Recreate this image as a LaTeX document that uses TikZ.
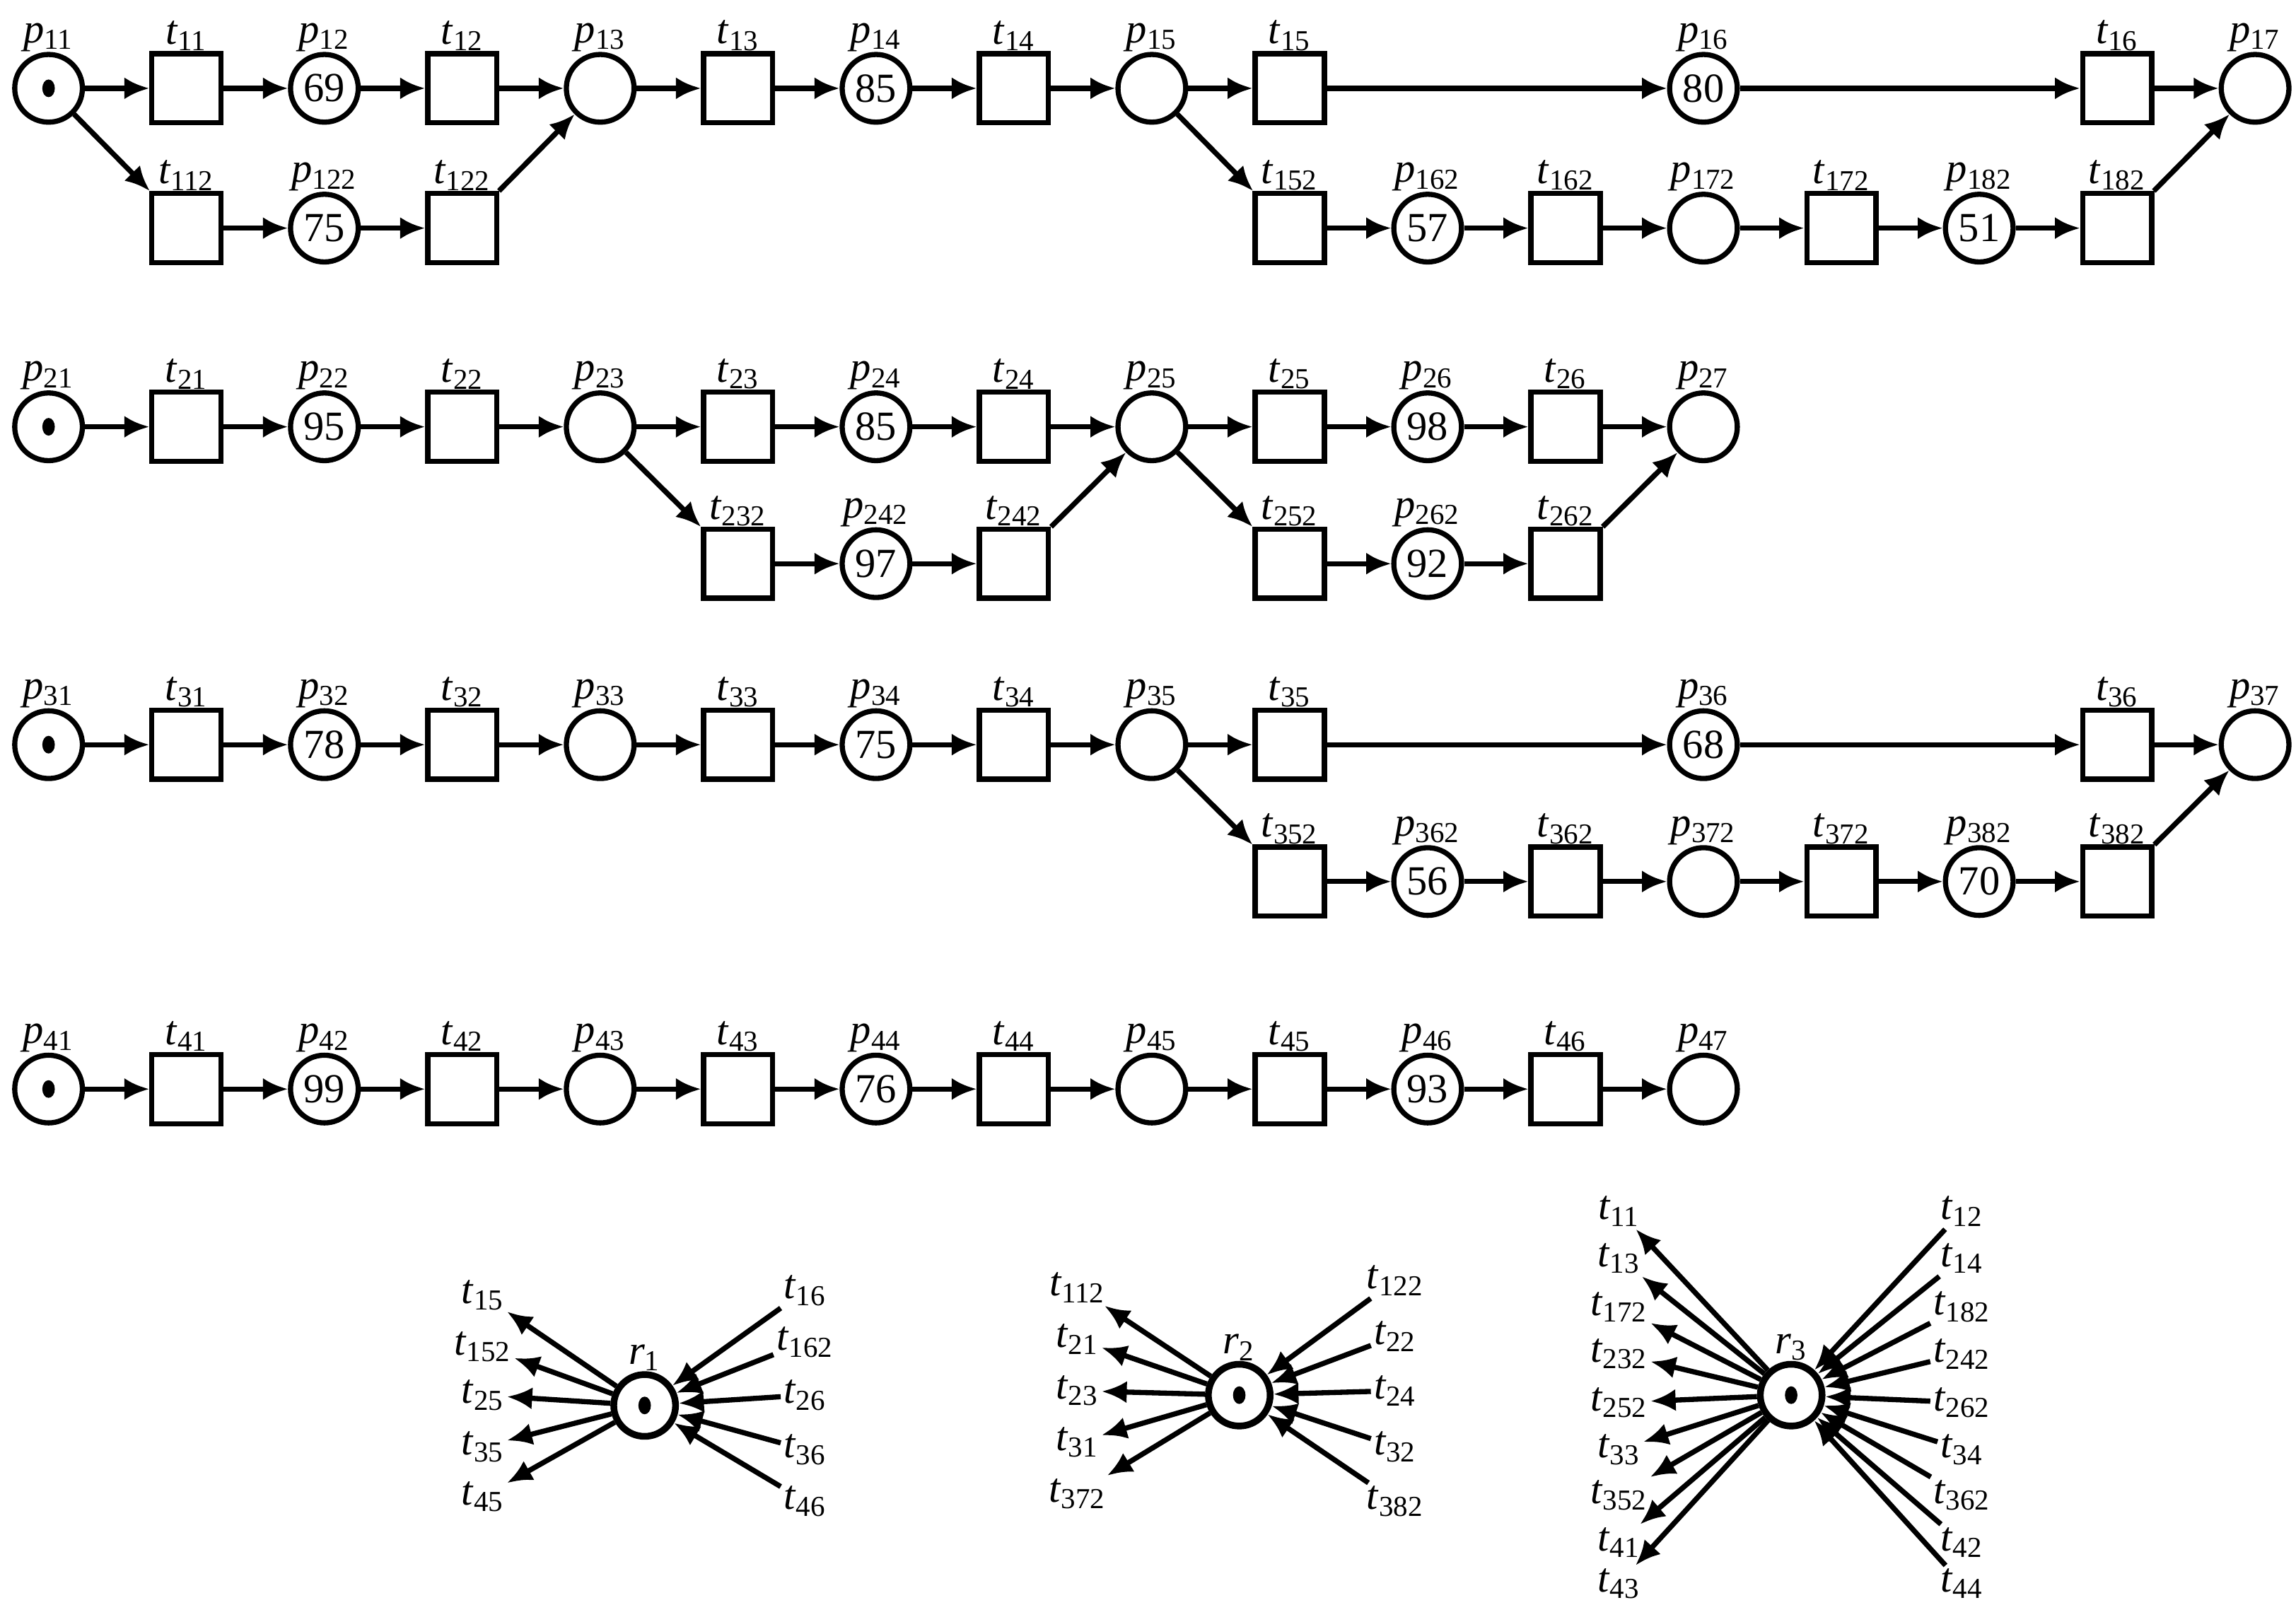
\documentclass[tikz,border=0pt]{standalone}
\usepackage{fontspec}
\setmainfont{Liberation Serif}
\usetikzlibrary{arrows.meta}
\newcommand{\lb}[2]{\textit{#1}\textsubscript{#2}}
\tikzset{
  arc/.style={line width=2pt,-{Latex[length=0.34cm,width=0.3cm]}},
  place/.style={circle,draw,line width=2pt,minimum size=0.92cm,inner sep=0pt,font=\fontsize{16}{18}\selectfont},
  trans/.style={rectangle,draw,line width=2pt,minimum size=0.94cm,inner sep=0pt},
  marked/.style={path picture={\fill (path picture bounding box.center) ellipse (0.085cm and 0.12cm);}},
  tag/.style={font=\fontsize{16}{18}\selectfont,inner sep=1pt},
  every label/.style={tag,label distance=-1pt}
}
\begin{document}
\begin{tikzpicture}[x=0.02cm,y=-0.02cm]
    \useasboundingbox (0,0) rectangle (1560,1090.6);

    % Net 1
    \foreach \k/\c/\m in {12/2/69,13/4/,14/6/85,15/8/,16/12/80,17/16/,122/2/75,162/10/57,172/12/,182/14/51}
        \node[place,label=above:\lb{p}{\k}] (p\k) at ({33+93.7*\c},{\k<100 ? 60 : 155}) {\m};
    \node[place,marked,label=above:\lb{p}{11}] (p11) at (33,60) {};
    \foreach \k/\c in {11/1,12/3,13/5,14/7,15/9,16/15,112/1,122/3,152/9,162/11,172/13,182/15}
        \node[trans,label=above:\lb{t}{\k}] (t\k) at ({33+93.7*\c},{\k<100 ? 60 : 155}) {};
    \foreach \a/\b in {p11/t11,t11/p12,p12/t12,t12/p13,p13/t13,t13/p14,p14/t14,t14/p15,p15/t15,t15/p16,p16/t16,t16/p17,
        p11/t112,t112/p122,p122/t122,t122/p13,
        p15/t152,t152/p162,p162/t162,t162/p172,p172/t172,t172/p182,p182/t182,t182/p17}
        \draw[arc] (\a) -- (\b);

    % Net 2
    \foreach \k/\c/\m/\y in {22/2/95/290,23/4//290,24/6/85/290,25/8//290,26/10/98/290,27/12//290,242/6/97/383,262/10/92/383}
        \node[place,label=above:\lb{p}{\k}] (p\k) at ({33+93.7*\c},\y) {\m};
    \node[place,marked,label=above:\lb{p}{21}] (p21) at (33,290) {};
    \foreach \k/\c/\y in {21/1/290,22/3/290,23/5/290,24/7/290,25/9/290,26/11/290,232/5/383,242/7/383,252/9/383,262/11/383}
        \node[trans,label=above:\lb{t}{\k}] (t\k) at ({33+93.7*\c},\y) {};
    \foreach \a/\b in {p21/t21,t21/p22,p22/t22,t22/p23,p23/t23,t23/p24,p24/t24,t24/p25,p25/t25,t25/p26,p26/t26,t26/p27,
        p23/t232,t232/p242,p242/t242,t242/p25,p25/t252,t252/p262,p262/t262,t262/p27}
        \draw[arc] (\a) -- (\b);

    % Net 3
    \foreach \k/\c/\m/\y in {32/2/78/506,33/4//506,34/6/75/506,35/8//506,36/12/68/506,37/16//506,362/10/56/599,372/12//599,382/14/70/599}
        \node[place,label=above:\lb{p}{\k}] (p\k) at ({33+93.7*\c},\y) {\m};
    \node[place,marked,label=above:\lb{p}{31}] (p31) at (33,506) {};
    \foreach \k/\c/\y in {31/1/506,32/3/506,33/5/506,34/7/506,35/9/506,36/15/506,352/9/599,362/11/599,372/13/599,382/15/599}
        \node[trans,label=above:\lb{t}{\k}] (t\k) at ({33+93.7*\c},\y) {};
    \foreach \a/\b in {p31/t31,t31/p32,p32/t32,t32/p33,p33/t33,t33/p34,p34/t34,t34/p35,p35/t35,t35/p36,p36/t36,t36/p37,
        p35/t352,t352/p362,p362/t362,t362/p372,p372/t372,t372/p382,p382/t382,t382/p37}
        \draw[arc] (\a) -- (\b);

    % Net 4
    \foreach \k/\c/\m in {42/2/99,43/4/,44/6/76,45/8/,46/10/93,47/12/}
        \node[place,label=above:\lb{p}{\k}] (p\k) at ({33+93.7*\c},740) {\m};
    \node[place,marked,label=above:\lb{p}{41}] (p41) at (33,740) {};
    \foreach \k/\c in {41/1,42/3,43/5,44/7,45/9,46/11}
        \node[trans,label=above:\lb{t}{\k}] (t\k) at ({33+93.7*\c},740) {};
    \foreach \a/\b in {p41/t41,t41/p42,p42/t42,t42/p43,p43/t43,t43/p44,p44/t44,t44/p45,p45/t45,t45/p46,p46/t46,t46/p47}
        \draw[arc] (\a) -- (\b);

    % Resources
    \node[place,marked,minimum size=0.84cm,line width=2.6pt,label=above:\lb{r}{1}] (r1) at (438,955) {};
    \node[place,marked,minimum size=0.84cm,line width=2.6pt,label=above:\lb{r}{2}] (r2) at (842,948) {};
    \node[place,marked,minimum size=0.84cm,line width=2.6pt,label=above:\lb{r}{3}] (r3) at (1217,948) {};

    \foreach \k/\y in {15/880,152/915,25/948,35/983,45/1017}
        {\node[tag] (rt\k) at (328,\y) {\lb{t}{\k}}; \draw[arc] (r1) -- (rt\k);}
    \foreach \k/\y in {16/877,162/912,26/948,36/985,46/1020}
        {\node[tag] (rt\k) at (547,\y) {\lb{t}{\k}}; \draw[arc] (rt\k) -- (r1);}
    \foreach \k/\y in {112/875,21/910,23/945,31/980,372/1015}
        {\node[tag] (rt\k) at (732,\y) {\lb{t}{\k}}; \draw[arc] (r2) -- (rt\k);}
    \foreach \k/\y in {122/870,22/908,24/945,32/983,382/1020}
        {\node[tag] (rt\k) at (948,\y) {\lb{t}{\k}}; \draw[arc] (rt\k) -- (r2);}
    \foreach \k/\y in {11/823,13/855,172/888,232/920,252/953,33/985,352/1016,41/1048,43/1076}
        {\node[tag] (rt\k) at (1100,\y) {\lb{t}{\k}}; \draw[arc] (r3) -- (rt\k);}
    \foreach \k/\y in {12/823,14/855,182/888,242/920,262/953,34/985,362/1016,42/1048,44/1076}
        {\node[tag] (rt\k) at (1333,\y) {\lb{t}{\k}}; \draw[arc] (rt\k) -- (r3);}
\end{tikzpicture}
\end{document}
